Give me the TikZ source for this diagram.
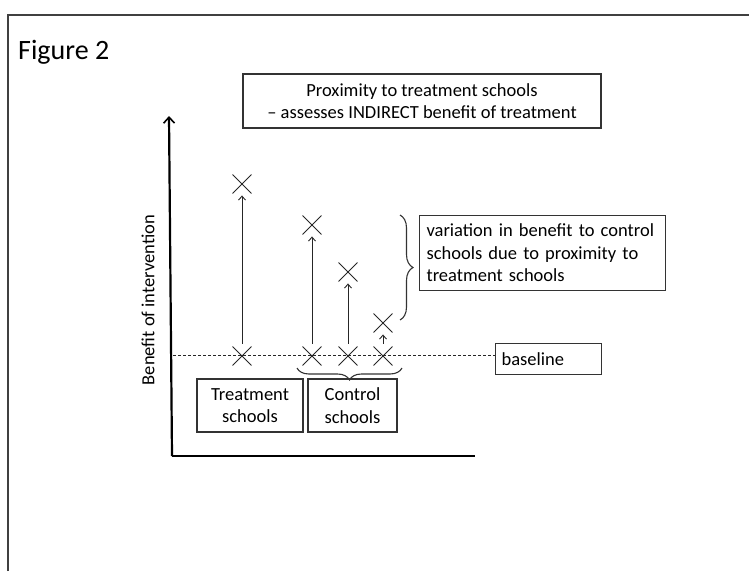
\documentclass[tikz,border=0pt]{standalone}
\usepackage{fontspec}
\setmainfont{Carlito}
\usetikzlibrary{shapes.misc,decorations.pathreplacing,arrows.meta}
\begin{document}
\begin{tikzpicture}[x=1pt,y=-1pt,
  txt/.style={font=\fontsize{18.5}{22.5}\selectfont},
  box/.style={txt,draw=black!80,line width=1.1pt,inner sep=0pt},
  xmark/.style={cross out,draw=black!85,line width=0.9pt,minimum size=18pt,inner sep=0pt},
  rise/.style={draw=black!85,line width=0.9pt,-{Straight Barb[length=4pt,width=7pt]},shorten <=3pt,shorten >=2pt},
  axis/.style={draw=black,line width=2.2pt},
  bracedeco/.style={draw=black!80,line width=1.1pt,decorate,decoration={brace,amplitude=#1}}
]
\useasboundingbox (0,0) rectangle (749,571);
% frame
\coordinate (f1) at (8,571);
\coordinate (f2) at (8,15);
\coordinate (f3) at (749,15);
\draw[black!75,line width=2pt] (f1) -- (f2) -- (f3);
\node[anchor=base west,inner sep=0pt,font=\fontsize{28}{32}\selectfont] (fig) at (18,59) {Figure 2};
% title box
\node[box,minimum width=358pt,minimum height=54pt,align=center] (title) at (422,101)
  {Proximity to treatment schools\\ -- assesses INDIRECT benefit of treatment};
% axes
\coordinate (o) at (172,456);
\coordinate (ytop) at (169,116);
\coordinate (xend) at (475,456);
\draw[axis,-{Straight Barb[length=6pt,width=11pt,line width=1.6pt]}] (o) -- (ytop);
\draw[axis] (o) -- (xend);
\node[txt,rotate=90,inner sep=0pt] (ylab) at (148,300) {Benefit of intervention};
% baseline
\node[box,anchor=north west,minimum width=106pt,minimum height=31pt,text width=94pt,inner xsep=6pt,align=left] (bl) at (495,343) {baseline};
\coordinate (dl) at (173,355);
\draw[black!85,line width=0.9pt,dash pattern=on 3pt off 2pt] (dl) -- (dl -| bl.west);
% crosses
\node[xmark] (t0) at (242,356) {};
\node[xmark] (t1) at (242,184) {};
\node[xmark] (a0) at (312,356) {};
\node[xmark] (a1) at (312,225) {};
\node[xmark] (b0) at (348,356) {};
\node[xmark] (b1) at (348,272) {};
\node[xmark] (c0) at (383,356) {};
\node[xmark] (c1) at (383,323) {};
\draw[rise] (t0.north) -- (t1.south);
\draw[rise] (a0.north) -- (a1.south);
\draw[rise] (b0.north) -- (b1.south);
\draw[rise] (c0.north) -- (c1.south);
% right brace and box
\coordinate (rb1) at (400,215);
\coordinate (rb2) at (400,320);
\draw[bracedeco=13pt] (rb1) -- (rb2);
\node[box,anchor=north west,minimum width=246pt,minimum height=75pt,text width=232pt,inner xsep=7pt,align=left] (var) at (419,215)
  {\hyphenpenalty=10000 variation in benefit to control schools due to proximity to treatment schools};
% bottom brace
\coordinate (bb1) at (402,368);
\coordinate (bb2) at (297,368);
\draw[bracedeco=12pt] (bb1) -- (bb2);
% school boxes
\node[box,minimum width=106pt,minimum height=53pt,align=center] (ts) at (250,405.5) {Treatment\\schools};
\node[box,minimum width=89pt,minimum height=53pt,align=center] (cs) at (352.5,405.5) {Control\\schools};
\end{tikzpicture}
\end{document}
